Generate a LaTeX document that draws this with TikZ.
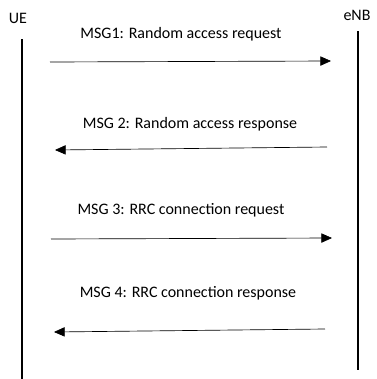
\documentclass[tikz,border=0pt]{standalone}
\usepackage{fontspec}
\setmainfont{Carlito}
\usetikzlibrary{arrows.meta,positioning}

\begin{document}
\begin{tikzpicture}[x=0.75pt,y=-0.75pt,
  life/.style={line width=1.4pt},
  msg/.style={line width=0.5pt, -{Triangle[length=8pt,width=7pt]}},
  lbl/.style={inner sep=0pt, font=\fontsize{12}{14}\selectfont}]
\useasboundingbox (0,0) rectangle (376,379);
% entities
\node[lbl] (ue) at (18,18) {UE};
\node[lbl] (enb) at (357,15) {eNB};
\coordinate (uetop) at (22,39);
\coordinate (uebot) at (22,379);
\coordinate (enbtop) at (358,31);
\coordinate (enbbot) at (358,370);
\draw[life] (uetop) -- (uebot);
\draw[life] (enbtop) -- (enbbot);
% messages
\node[lbl] (m1) at (181,34) {MSG1: Random access request};
\node[lbl] (m2) at (190,124) {MSG 2: Random access response};
\node[lbl] (m3) at (181,210) {MSG 3: RRC connection request};
\node[lbl] (m4) at (188,293) {MSG 4: RRC connection response};
\coordinate (a1) at (50,62);  \coordinate (b1) at (331,61);
\coordinate (a2) at (327,147); \coordinate (b2) at (55,150);
\coordinate (a3) at (51,239); \coordinate (b3) at (332,238);
\coordinate (a4) at (325,329); \coordinate (b4) at (54,332);
\draw[msg] (a1) -- (b1);
\draw[msg] (a2) -- (b2);
\draw[msg] (a3) -- (b3);
\draw[msg] (a4) -- (b4);
\end{tikzpicture}
\end{document}
